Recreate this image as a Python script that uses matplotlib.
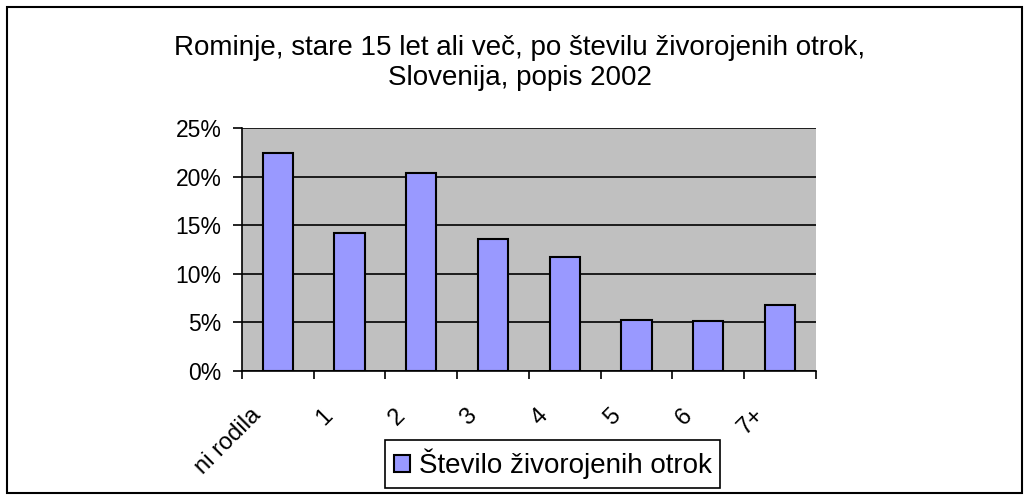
"""Rominje po številu živorojenih otrok, popis 2002."""

import matplotlib
matplotlib.use('Agg')
import matplotlib.pyplot as plt
from matplotlib.patches import Rectangle
from matplotlib.transforms import ScaledTranslation
from matplotlib.ticker import FixedLocator, PercentFormatter

plt.rcParams['font.family'] = ['Liberation Sans', 'DejaVu Sans']

kategorije = ['ni rodila', '1', '2', '3', '4', '5', '6', '7+']
delez = [22.45, 14.18, 20.38, 13.57, 11.7, 5.27, 5.1, 6.79]
serija = 'Število živorojenih otrok'
naslov = 'Rominje, stare 15 let ali več, po številu živorojenih otrok,\nSlovenija, popis 2002'
y_ticks = [0, 5, 10, 15, 20, 25]

FS = 16.5
FS_BIG = 20


def main():
    fig = plt.figure(figsize=(10.29, 5.0), dpi=100)
    ax = fig.add_axes([0.235, 0.258, 0.558, 0.486])
    ax.set_facecolor('#c0c0c0')

    x = list(range(len(kategorije)))
    bars = ax.bar(x, delez, width=0.42, color='#9999ff', edgecolor='black',
                  linewidth=1.5, zorder=3, label=serija)

    ax.set_xlim(-0.5, len(kategorije) - 0.5)
    ax.set_ylim(0, 25)
    ax.set_yticks(y_ticks)
    ax.yaxis.set_major_formatter(PercentFormatter(decimals=0))
    ax.grid(axis='y', color='black', lw=1.2, zorder=1)
    ax.set_axisbelow(True)

    # kategorije na sredini, kljukice med njimi
    ax.set_xticks(x)
    ax.set_xticklabels(kategorije, rotation=45, ha='right', va='top')
    ax.xaxis.set_minor_locator(FixedLocator([i - 0.5 for i in range(len(kategorije) + 1)]))
    ax.tick_params(axis='x', which='major', length=0, pad=24, labelsize=17)
    ax.tick_params(axis='x', which='minor', length=6, width=1.2, direction='out')
    ax.tick_params(axis='y', length=6.5, width=1.2, pad=8, labelsize=FS)
    off = ScaledTranslation(-0.12, 0, fig.dpi_scale_trans)
    for lab in ax.get_xticklabels():
        lab.set_transform(lab.get_transform() + off)

    for s in ['top', 'right']:
        ax.spines[s].set_visible(False)
    for s in ['left', 'bottom']:
        ax.spines[s].set_linewidth(1.2)

    fig.text(0.505, 0.874, naslov, ha='center', va='center', fontsize=FS_BIG,
             linespacing=1.22)

    leg = fig.legend(handles=[bars], loc='center', bbox_to_anchor=(0.537, 0.072),
                     fontsize=FS_BIG, frameon=True, fancybox=False, edgecolor='black',
                     framealpha=1, handlelength=0.6, handleheight=0.6,
                     handletextpad=0.3, borderpad=0.3, borderaxespad=0)
    leg.get_frame().set_linewidth(1.2)

    fig.patches.append(Rectangle((0.007, 0.014), 0.986, 0.972, fill=False,
                                 edgecolor='black', lw=1.5,
                                 transform=fig.transFigure, figure=fig))

    fig.savefig('out.png', dpi=100)


if __name__ == '__main__':
    main()
